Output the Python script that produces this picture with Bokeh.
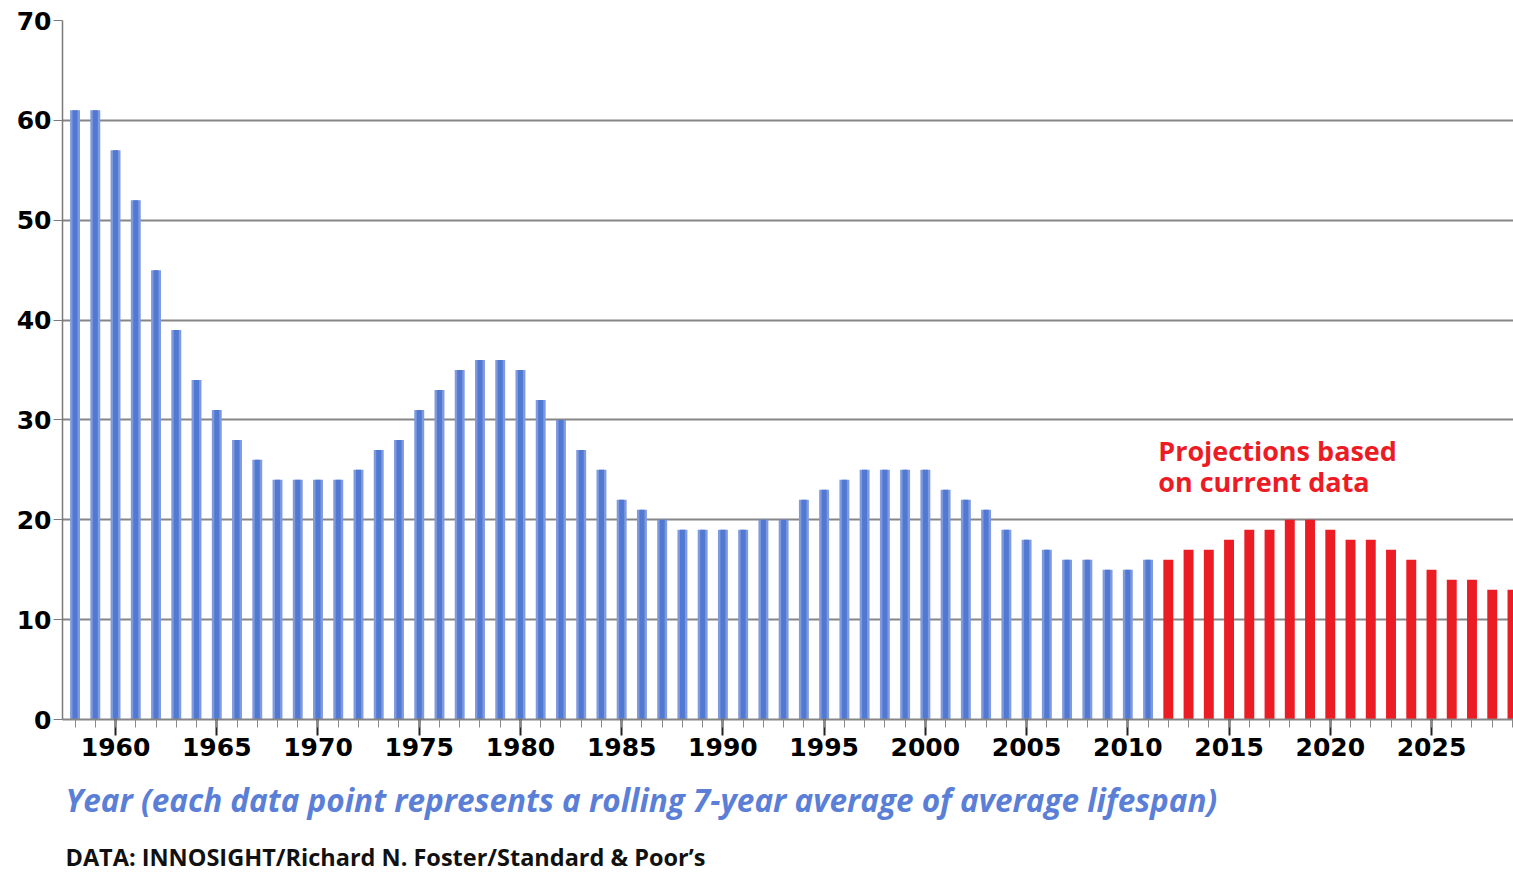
from bokeh.plotting import figure
from bokeh.models import ColumnDataSource, SingleIntervalTicker, Title, Label, Range1d
from bokeh.embed import file_html
from bokeh.resources import INLINE

years = list(range(1958, 2030))
lifespan = [61, 61, 57, 52, 45, 39, 34, 31, 28, 26,
            24, 24, 24, 24, 25, 27, 28, 31, 33, 35,
            36, 36, 35, 32, 30, 27, 25, 22, 21, 20,
            19, 19, 19, 19, 20, 20, 22, 23, 24, 25,
            25, 25, 25, 23, 22, 21, 19, 18, 17, 16,
            16, 15, 15, 16,
            16, 17, 17, 18, 19, 19, 20, 20, 19, 18,
            18, 17, 16, 15, 14, 14, 13, 13]
first_projection_year = 2012
y_ticks = [0, 10, 20, 30, 40, 50, 60, 70]

hist_x = [y for y in years if y < first_projection_year]
hist_v = [v for y, v in zip(years, lifespan) if y < first_projection_year]
proj_x = [y for y in years if y >= first_projection_year]
proj_v = [v for y, v in zip(years, lifespan) if y >= first_projection_year]

hist = ColumnDataSource(dict(x=hist_x, top=hist_v))
proj = ColumnDataSource(dict(x=proj_x, top=proj_v))

p = figure(width=1513, height=872, output_backend="svg", toolbar_location=None,
           x_range=Range1d(1957.38, 2029.05), y_range=Range1d(0, 70),
           min_border_left=62, min_border_right=0, min_border_top=20, min_border_bottom=153)
p.outline_line_color = None
p.background_fill_color = "white"
p.border_fill_color = "white"

# historic bars (two layers to suggest the shaded bars)
p.vbar(x="x", top="top", width=0.49, bottom=0, source=hist,
       fill_color="#7f9ade", line_color=None)
p.vbar(x="x", top="top", width=0.25, bottom=0, source=hist,
       fill_color="#5179d1", line_color=None)
# projection bars
p.vbar(x="x", top="top", width=0.49, bottom=0, source=proj,
       fill_color="#ec1c24", line_color=None)

# grid
p.xgrid.grid_line_color = None
p.ygrid.grid_line_color = "#858585"
p.ygrid.grid_line_width = 2

# y axis
p.yaxis.ticker = y_ticks
p.yaxis.major_label_text_font = "DejaVu Sans"
p.yaxis.major_label_text_font_style = "bold"
p.yaxis.major_label_text_font_size = "25px"
p.yaxis.major_label_text_color = "black"
p.yaxis.major_tick_out = 9
p.yaxis.major_tick_in = 0
p.yaxis.minor_tick_line_color = None
p.yaxis.major_tick_line_color = "#7a7a7a"
p.yaxis.axis_line_color = "#7a7a7a"
p.yaxis.axis_line_width = 1.5
p.yaxis.major_label_standoff = 2

# x axis
p.xaxis.ticker = SingleIntervalTicker(interval=5, num_minor_ticks=5)
p.xaxis.major_label_text_font = "DejaVu Sans"
p.xaxis.major_label_text_font_style = "bold"
p.xaxis.major_label_text_font_size = "25px"
p.xaxis.major_label_text_color = "black"
p.xaxis.major_tick_out = 16
p.xaxis.major_tick_in = 0
p.xaxis.minor_tick_out = 8
p.xaxis.minor_tick_in = 0
p.xaxis.major_tick_line_color = "#222222"
p.xaxis.major_tick_line_width = 2
p.xaxis.minor_tick_line_color = "#888888"
p.xaxis.axis_line_color = "#858585"
p.xaxis.axis_line_width = 2
p.xaxis.major_label_standoff = 2

# annotation
p.add_layout(Label(x=2011.5, y=26.9, text="Projections based",
                   text_font="Open Sans", text_font_style="bold",
                   text_font_size="27px", text_color="#ec1c24",
                   text_baseline="alphabetic"))
p.add_layout(Label(x=2011.5, y=23.8, text="on current data",
                   text_font="Open Sans", text_font_style="bold",
                   text_font_size="27px", text_color="#ec1c24",
                   text_baseline="alphabetic"))

t1 = Title(text="Year (each data point represents a rolling 7-year average of average lifespan)",
           align="left", offset=3, text_font="Open Sans", text_font_style="bold italic",
           text_font_size="31.5px", text_color="#5b7fd6", standoff=35)
t2 = Title(text="DATA: INNOSIGHT/Richard N. Foster/Standard & Poor\u2019s",
           align="left", offset=3, text_font="Open Sans", text_font_style="bold",
           text_font_size="23.5px", text_color="#111111", standoff=0)
p.add_layout(t1, "below")
p.add_layout(t2, "below")

open("out.html", "w").write(file_html(p, INLINE))
